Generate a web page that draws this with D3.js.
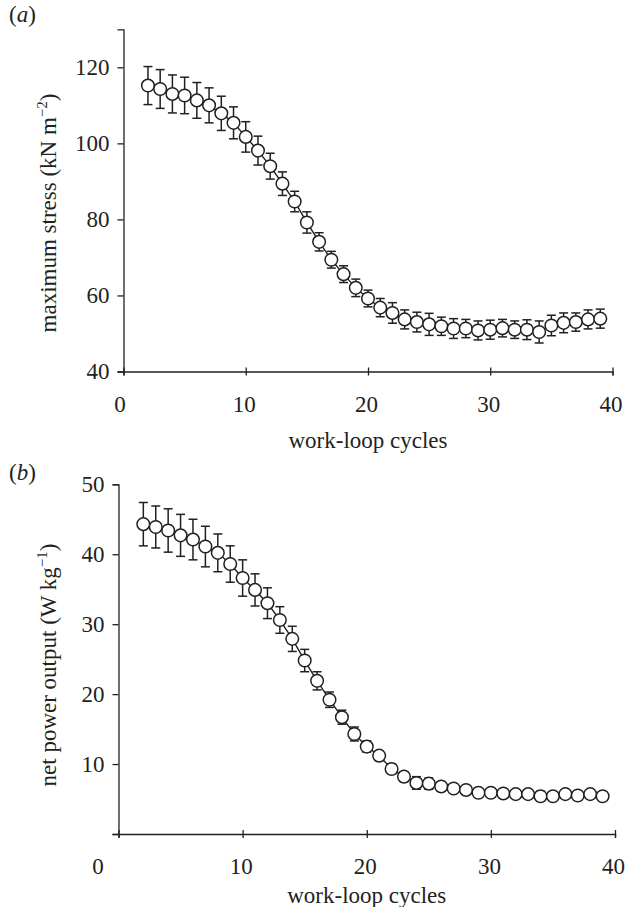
<!DOCTYPE html>
<html>
<head>
    <title>Work-loop cycles: stress and power</title>
    <script src="https://d3js.org/d3.v7.min.js"></script>
    <style>
        body { margin: 0; background: #fff; }
        text { font-family: "Liberation Serif", "DejaVu Serif", serif; fill: #231f20; }
    </style>
</head>
<body>
    <svg id="chart" width="625" height="907"></svg>

    <script>
        // data
        const cycles = [2, 3, 4, 5, 6, 7, 8, 9, 10, 11, 12, 13, 14, 15, 16, 17, 18, 19, 20,
                        21, 22, 23, 24, 25, 26, 27, 28, 29, 30, 31, 32, 33, 34, 35, 36, 37, 38, 39];

        const stressMean = [115.2, 114.3, 113.0, 112.6, 111.3, 110.0, 107.9, 105.4, 101.7, 98.1,
                            94.0, 89.4, 84.7, 79.2, 74.1, 69.4, 65.6, 62.0, 59.2, 56.8,
                            55.4, 53.7, 53.0, 52.4, 51.9, 51.3, 51.3, 50.8, 51.0, 51.4,
                            51.0, 51.0, 50.4, 52.1, 52.8, 53.0, 53.7, 53.9];
        const stressErr = [5.0, 5.1, 5.0, 4.8, 4.7, 4.6, 4.5, 4.2, 4.0, 3.8,
                           3.4, 3.1, 2.7, 2.8, 2.4, 2.2, 2.2, 2.3, 2.2, 2.4,
                           2.7, 2.5, 2.6, 2.9, 2.4, 2.6, 2.4, 2.5, 2.5, 2.3,
                           2.3, 2.6, 2.9, 2.7, 2.6, 2.4, 2.5, 2.5];

        const powerMean = [44.3, 43.9, 43.4, 42.7, 42.1, 41.1, 40.2, 38.6, 36.6, 34.9,
                           33.0, 30.6, 27.9, 24.8, 21.9, 19.2, 16.7, 14.3, 12.5, 11.2,
                           9.3, 8.2, 7.3, 7.2, 6.8, 6.5, 6.3, 5.9, 5.9, 5.8,
                           5.7, 5.7, 5.4, 5.4, 5.7, 5.5, 5.7, 5.4];
        const powerErr = [3.1, 3.0, 3.1, 3.0, 2.9, 2.9, 2.7, 2.6, 2.6, 2.3,
                          2.2, 1.9, 1.8, 1.6, 1.3, 1.1, 1.0, 1.0, 0.8, 0.7,
                          0.7, 0.7, 0.9, 0.8, 0.6, 0.6, 0.5, 0.5, 0.5, 0.5,
                          0.5, 0.5, 0.7, 0.5, 0.5, 0.5, 0.5, 0.5];

        const cycleTicks = [0, 10, 20, 30, 40];
        const stressTicks = [40, 60, 80, 100, 120];
        const powerTicks = [0, 10, 20, 30, 40, 50];

        const svg = d3.select("#chart");
        const fontSize = 23;

        function drawPanel(opts) {
            const x = d3.scaleLinear().domain([0, 40]).range([opts.left, opts.right]);
            const y = d3.scaleLinear().domain(opts.yDomain).range([opts.bottom, opts.top]);
            const g = svg.append("g");

            const data = cycles.map((c, i) => ({ c: c, v: opts.mean[i], e: opts.err[i] }));

            // x axis with crossing ticks
            const xAxis = g.append("g")
                .attr("transform", "translate(0," + opts.bottom + ")")
                .call(d3.axisBottom(x).tickValues(cycleTicks).tickSizeOuter(0).tickSize(4).tickPadding(20));
            xAxis.select(".domain").attr("stroke", "#231f20").attr("stroke-width", 1.3);
            xAxis.selectAll(".tick line").attr("y1", -4).attr("y2", 4).attr("stroke", "#231f20").attr("stroke-width", 1.3);
            xAxis.selectAll(".tick text")
                .style("font-size", fontSize + "px")
                .style("font-family", "Liberation Serif")
                .attr("fill", "#231f20")
                .attr("dx", d => d === 0 ? opts.zeroShift : -2);

            // y axis
            const yAxis = g.append("g")
                .attr("transform", "translate(" + opts.left + ",0)")
                .call(d3.axisLeft(y).tickValues(opts.yTicks).tickSizeOuter(0).tickSize(6).tickPadding(8)
                    .tickFormat(d => opts.hideZero && d === 0 ? "" : d));
            yAxis.select(".domain").attr("stroke", "#231f20").attr("stroke-width", 1.3);
            yAxis.selectAll(".tick line").attr("stroke", "#231f20").attr("stroke-width", 1.3);
            yAxis.selectAll(".tick text")
                .style("font-size", fontSize + "px")
                .style("font-family", "Liberation Serif")
                .attr("fill", "#231f20");

            // connecting line
            g.append("path")
                .datum(data)
                .attr("fill", "none")
                .attr("stroke", "#231f20")
                .attr("stroke-width", 1.4)
                .attr("d", d3.line().x(d => x(d.c)).y(d => y(d.v)));

            // error bars
            const bars = g.selectAll(".err").data(data).join("g").attr("class", "err")
                .attr("stroke", "#231f20").attr("stroke-width", 1.5);
            bars.append("line")
                .attr("x1", d => x(d.c)).attr("x2", d => x(d.c))
                .attr("y1", d => y(d.v - d.e)).attr("y2", d => y(d.v + d.e));
            bars.append("line")
                .attr("x1", d => x(d.c) - 4.5).attr("x2", d => x(d.c) + 4.5)
                .attr("y1", d => y(d.v + d.e)).attr("y2", d => y(d.v + d.e));
            bars.append("line")
                .attr("x1", d => x(d.c) - 4.5).attr("x2", d => x(d.c) + 4.5)
                .attr("y1", d => y(d.v - d.e)).attr("y2", d => y(d.v - d.e));

            // markers
            g.selectAll(".pt").data(data).join("circle")
                .attr("class", "pt")
                .attr("cx", d => x(d.c))
                .attr("cy", d => y(d.v))
                .attr("r", 6.3)
                .attr("fill", "#fff")
                .attr("stroke", "#231f20")
                .attr("stroke-width", 1.5);

            // axis titles
            g.append("text")
                .attr("x", (opts.left + opts.right) / 2)
                .attr("y", opts.xTitleY)
                .attr("text-anchor", "middle")
                .style("font-size", fontSize + "px")
                .text("work-loop cycles");

            const yt = g.append("text")
                .attr("transform", "translate(" + opts.yTitleX + "," + opts.yTitleY + ") rotate(-90)")
                .attr("text-anchor", "middle")
                .style("font-size", fontSize + "px");
            yt.append("tspan").text(opts.yTitle[0]);
            yt.append("tspan").attr("dy", -9).style("font-size", "15px").text(opts.yTitle[1]);
            yt.append("tspan").attr("dy", 9).text(opts.yTitle[2]);

            // panel letter
            const lab = g.append("text")
                .attr("x", 9)
                .attr("y", opts.labelY)
                .style("font-size", fontSize + "px");
            lab.append("tspan").text("(");
            lab.append("tspan").style("font-style", "italic").text(opts.letter);
            lab.append("tspan").text(")");
        }

        drawPanel({
            left: 123.5, right: 612.5, top: 29.3, bottom: 371.5,
            yDomain: [40, 130], yTicks: stressTicks,
            mean: stressMean, err: stressErr,
            zeroShift: -4, hideZero: false,
            xTitleY: 448, yTitleX: 56, yTitleY: 213, labelY: 22,
            yTitle: ["maximum stress (kN m", "\u22122", ")"], letter: "a"
        });

        drawPanel({
            left: 118.5, right: 615, top: 484.3, bottom: 834,
            yDomain: [0, 50], yTicks: powerTicks,
            mean: powerMean, err: powerErr,
            zeroShift: -21, hideZero: true,
            xTitleY: 903, yTitleX: 56, yTitleY: 665, labelY: 480,
            yTitle: ["net power output (W kg", "\u22121", ")"], letter: "b"
        });
    </script>
</body>
</html>
